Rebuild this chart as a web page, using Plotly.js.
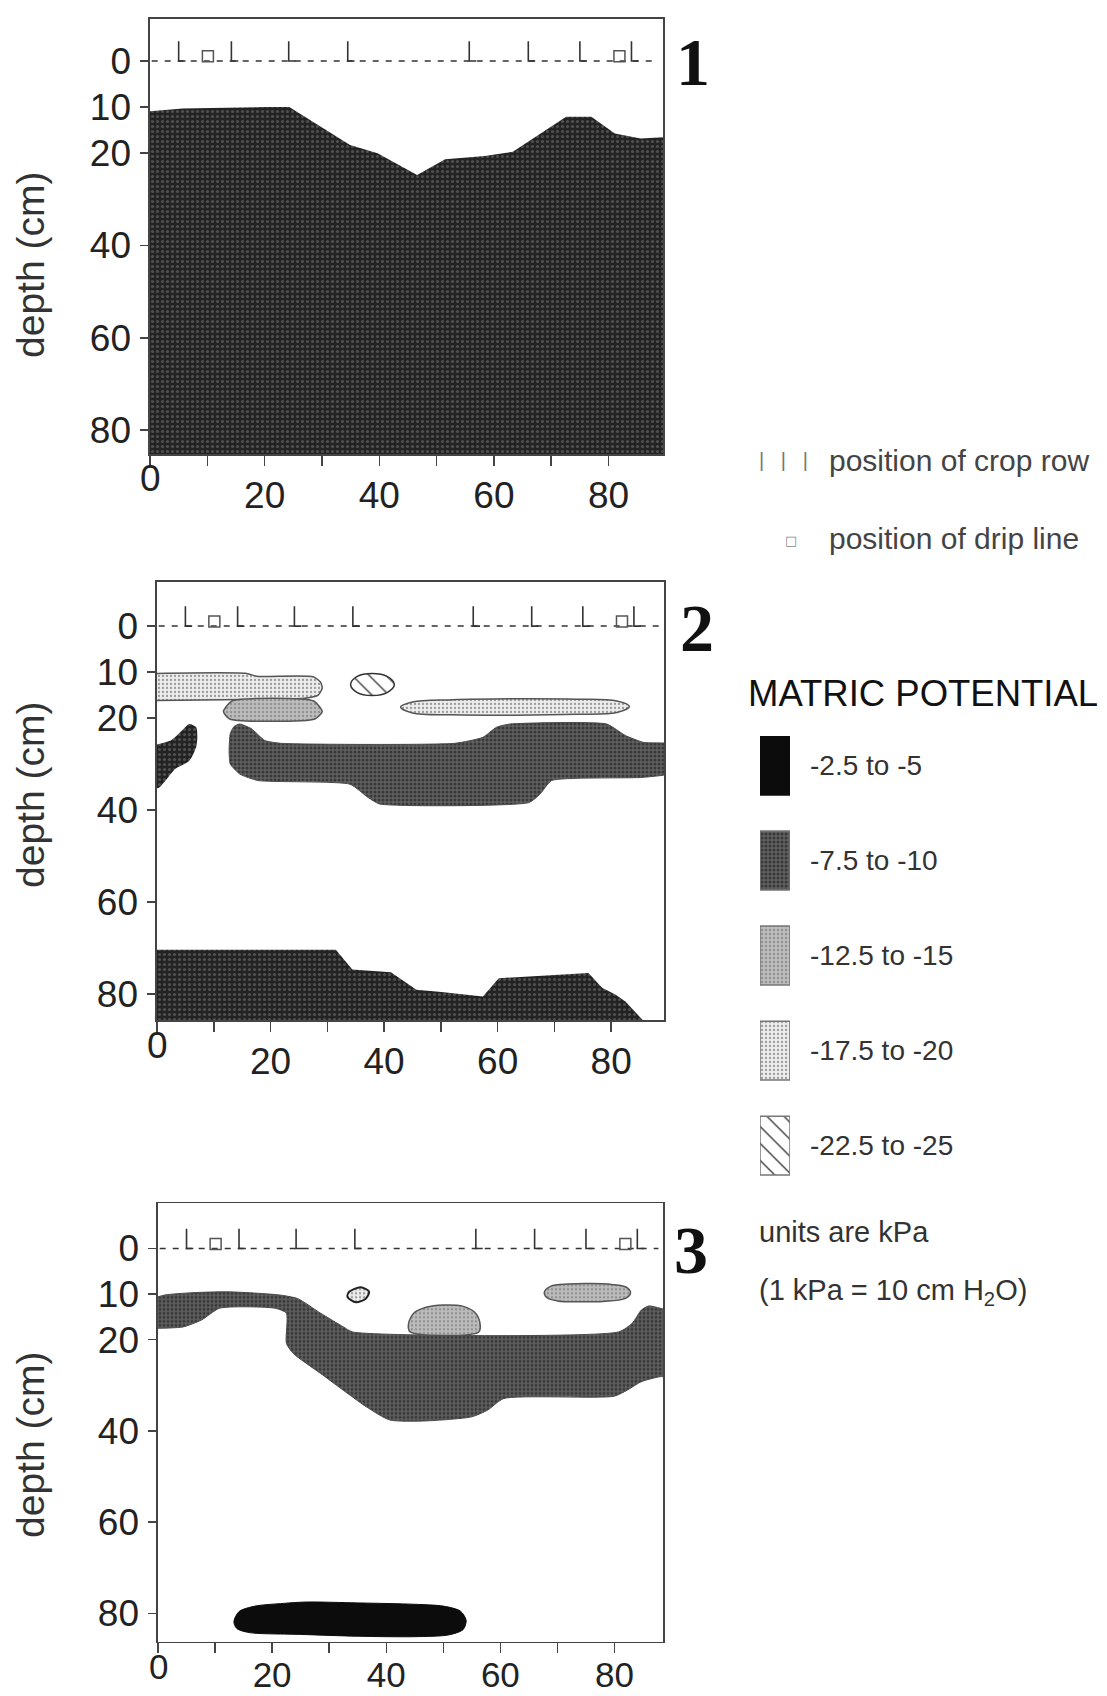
<!DOCTYPE html>
<html><head><meta charset="utf-8">
<script src="https://cdn.plot.ly/plotly-3.0.1.min.js"></script>
<style>html,body{margin:0;padding:0;background:#fff}#chart{width:1107px;height:1696px}</style>
</head><body><div id="chart"></div>
<script>
// ---------------- data ----------------
const xTickVals = [0,10,20,30,40,50,60,70,80,90];
const xTickText = ['','','20','','40','','60','','80',''];
const xOriginLabel = '0';
const yTickVals = [0,10,20,40,60,80];
const yTickText = ['0','10','20','40','60','80'];
const panelNames = ['1','2','3'];
const yAxisTitle = 'depth (cm)';
const xRanges = [[0,89.5],[0,89.3],[0,88.5]];
const yRanges = [[85.2,-9.1],[85.7,-9.6],[86.2,-9.9]];

// positions along the bed (cm)
const cropRows = [5, 14.2, 24.2, 34.5, 55.7, 66, 75, 84];
const dripLines = [10.1, 81.9];
const soilSurface = 0;

// legend
const cropRowLabel = 'position of crop row';
const dripLineLabel = 'position of drip line';
const legendTitle = 'MATRIC POTENTIAL';
const classKeys = ['c1','c2','c3','c4','c5'];
const classLabels = ['-2.5 to -5','-7.5 to -10','-12.5 to -15','-17.5 to -20','-22.5 to -25'];
const unitsNote1 = 'units are kPa';
const unitsNote2 = '(1 kPa = 10 cm H<sub>2</sub>O)';

// ---- panel 1 contour regions (x = cm, y = depth cm) ----
const p1DarkX = [-1, 5.7, 20.3, 24.3, 34.9, 39.7, 46.6, 51.5, 58.4, 63.3, 72.6, 77.0, 81.1, 85.6, 91, 91, -1];
const p1DarkY = [11.0, 10.3, 10.0, 10.0, 18.2, 20.0, 24.7, 21.3, 20.6, 19.7, 12.1, 12.1, 15.7, 16.8, 16.4, 90, 90];

// ---- panel 2 ----
const p2BandX = [-1, 15.8, 17.5, 27.5, 28.8, 29.1, 28.4, 26, 11.6, -1];
const p2BandY = [10.3, 10.3, 10.9, 11.0, 12.2, 13.5, 15.0, 15.7, 16.0, 16.2];
const p2MidX = [11.7, 13.2, 27.6, 29.1, 27.8, 12.8, 11.7];
const p2MidY = [18.6, 16.3, 16.3, 18.6, 20.2, 20.2, 18.6];
const p2HatchX = [34.1, 35.2, 37.9, 40.6, 41.8, 40.6, 37.9, 35.2, 34.1];
const p2HatchY = [12.7, 11.0, 10.3, 11.0, 12.7, 14.4, 15.1, 14.4, 12.7];
const p2LongX = [42.9, 45, 52, 63, 74, 81, 83.2, 81, 74, 63, 52, 45, 42.9];
const p2LongY = [17.6, 16.5, 16.0, 15.8, 15.9, 16.3, 17.5, 18.8, 19.2, 19.4, 19.3, 18.9, 17.6];
const p2BlobX = [-1, 2.4, 4.4, 5.7, 6.9, 7.1, 6.9, 5.7, 3.2, 0.4, -1];
const p2BlobY = [26, 24.9, 22.7, 21.3, 22.0, 24.2, 26.3, 29.3, 31.1, 35.1, 35.5];
const p2GrayX = [12.7, 12.9, 13.6, 14.6, 16.6, 19.0, 21.8, 52.5, 57.4, 59.8, 62.2, 79.2, 82.5, 85.7, 91, 91, 85.7, 69.5, 67.5, 65.5, 39.2, 37.2, 34.0, 17.8, 14.6, 12.9, 12.7];
const p2GrayY = [27.1, 23.4, 21.8, 21.3, 22.3, 24.9, 25.5, 25.5, 24.2, 22.0, 21.3, 21.3, 23.8, 25.3, 25.8, 31.8, 32.9, 33.6, 36.5, 38.4, 38.7, 37.3, 34.4, 33.6, 32.2, 30.0, 27.1];
const p2DeepX = [-1, 31.5, 34.4, 41.2, 45.7, 50.1, 57.4, 60.2, 76.0, 78.4, 80.8, 82.5, 85.7, 86.5, -1];
const p2DeepY = [70.4, 70.4, 74.7, 75.3, 79.1, 79.6, 80.6, 76.6, 75.5, 78.7, 80.2, 81.7, 85.9, 90, 90];

// ---- panel 3 ----
const p3GrayX = [-1, 1.2, 6.0, 12.4, 21.3, 24.5, 28.5, 32.5, 34.1, 80.7, 83.1, 84.7, 86.0, 88.0, 91, 91, 88.0, 84.7, 82.3, 79.9, 60.6, 57.8, 55.0, 47.0, 40.6, 36.5, 28.5, 23.7, 22.5, 22.5, 20.5, 10.8, 7.6, 4.4, 0, -1];
const p3GrayY = [11.0, 10.2, 9.7, 9.5, 10.2, 11.0, 14.2, 17.2, 18.3, 18.3, 16.4, 13.5, 12.6, 13.1, 14.5, 28.1, 28.1, 29.2, 31.0, 32.4, 32.9, 35.4, 36.9, 37.8, 37.6, 34.7, 27.4, 23.0, 20.8, 14.2, 13.1, 13.1, 15.7, 17.2, 17.5, 17.5];
const p3SmallX = [33.5, 35.5, 37.0, 36.4, 34.7, 33.2, 33.5];
const p3SmallY = [9.5, 8.5, 9.5, 11.0, 11.8, 10.6, 9.5];
const p3DomeX = [44.2, 43.9, 44.8, 47, 50, 53.5, 55.5, 56.4, 56.2, 44.2];
const p3DomeY = [18.3, 16.5, 14.2, 12.9, 12.4, 12.7, 14.0, 16.2, 18.3, 18.3];
const p3OvalX = [67.7, 68.8, 72, 75.5, 79.5, 82.2, 82.8, 81.8, 78, 74, 70, 68.2, 67.7];
const p3OvalY = [9.6, 8.3, 7.8, 7.7, 7.9, 8.6, 9.8, 11.0, 11.6, 11.7, 11.5, 10.8, 9.6];
const p3BlackX = [13.3, 14.2, 17, 22, 26, 35, 45, 50, 53, 54, 53.5, 51, 45, 35, 25, 16, 13.8, 13.3];
const p3BlackY = [81.8, 79.6, 78.4, 77.8, 77.5, 77.7, 78.0, 78.4, 79.5, 81.5, 83.5, 84.7, 85.1, 85.0, 84.6, 84.2, 83.3, 81.8];

// ---------------- styles ----------------
const classStyle = {
  c1:   {bg:'#232323', fg:'#505050', shape:'.', size:5, sol:0.3, line:'rgba(0,0,0,0)', lw:0},
  c1s:  {bg:'#0c0c0c', fg:'#0c0c0c', shape:'', size:5, sol:0.3, line:'#0c0c0c', lw:1},
  c2:   {bg:'#606060', fg:'#383838', shape:'.', size:4, sol:0.45, line:'#4a4a4a', lw:1},
  c3:   {bg:'#bdbdbd', fg:'#929292', shape:'.', size:4, sol:0.3, line:'#555555', lw:1.5},
  c4:   {bg:'#ececec', fg:'#9a9a9a', shape:'.', size:4, sol:0.25, line:'#555555', lw:1.5},
  c5:   {bg:'#ffffff', fg:'#444444', shape:'\\', size:12, sol:0.12, line:'#333333', lw:1.5}
};
const smallOutline = {line:'#222222', lw:2};

const regions = [
  {p:0, cls:'c1', x:p1DarkX, y:p1DarkY, smooth:0},
  {p:1, cls:'c4', x:p2BandX, y:p2BandY, smooth:0.6},
  {p:1, cls:'c3', x:p2MidX, y:p2MidY, smooth:0.6},
  {p:1, cls:'c5', x:p2HatchX, y:p2HatchY, smooth:1},
  {p:1, cls:'c4', x:p2LongX, y:p2LongY, smooth:1},
  {p:1, cls:'c1', x:p2BlobX, y:p2BlobY, smooth:0.7},
  {p:1, cls:'c2', x:p2GrayX, y:p2GrayY, smooth:0.5},
  {p:1, cls:'c1', x:p2DeepX, y:p2DeepY, smooth:0},
  {p:2, cls:'c2', x:p3GrayX, y:p3GrayY, smooth:0.6},
  {p:2, cls:'c4', x:p3SmallX, y:p3SmallY, smooth:0.8, outline:smallOutline},
  {p:2, cls:'c3', x:p3DomeX, y:p3DomeY, smooth:0.8},
  {p:2, cls:'c3', x:p3OvalX, y:p3OvalY, smooth:1},
  {p:2, cls:'c1s', x:p3BlackX, y:p3BlackY, smooth:0.8}
];

// ---------------- layout geometry (pixels of the 1107x1696 page) ----------------
const W = 1107, H = 1696;
const panelBoxes = [
  {l:150, r:663, t:19, b:454, title:265, xlabStandoff:-2, xlabSize:37},
  {l:157, r:664, t:582, b:1020, title:795, xlabStandoff:-2, xlabSize:37},
  {l:158, r:663, t:1203.3, b:1641.7, title:1445, xlabStandoff:-8, xlabSize:35}
];
const px = v => v / W;
const py = v => 1 - v / H;
const sfx = i => i === 0 ? '' : String(i + 1);
const sans = 'Liberation Sans, Arial, sans-serif';
const axisFont = {family:sans, size:37, color:'#222'};

const traces = [];
regions.forEach(r => {
  const s = classStyle[r.cls];
  const o = r.outline || {line:s.line, lw:s.lw};
  const t = {
    type:'scatter', mode:'lines', x:r.x, y:r.y,
    xaxis:'x' + sfx(r.p), yaxis:'y' + sfx(r.p),
    fill:'toself', fillcolor:s.bg,
    line:{color:o.line, width:o.lw, shape: r.smooth ? 'spline' : 'linear', smoothing: r.smooth || 0},
    hoverinfo:'skip'
  };
  if (s.shape) t.fillpattern = {shape:s.shape, bgcolor:s.bg, fgcolor:s.fg, size:s.size, solidity:s.sol};
  traces.push(t);
});

// soil surface, crop rows, drip lines
for (let i = 0; i < 3; i++) {
  const xa = 'x' + sfx(i), ya = 'y' + sfx(i);
  traces.push({type:'scatter', mode:'lines', x:[xRanges[i][0] + 0.3, xRanges[i][1] - 0.8], y:[soilSurface, soilSurface],
    xaxis:xa, yaxis:ya, line:{color:'#333', width:1.5, dash:'6px,7px'}, hoverinfo:'skip'});
  const cx = [], cy = [];
  cropRows.forEach(c => { cx.push(c, c, c + 1.2, null); cy.push(soilSurface - 4.3, soilSurface, soilSurface, null); });
  traces.push({type:'scatter', mode:'lines', x:cx, y:cy, xaxis:xa, yaxis:ya,
    line:{color:'#333', width:1.6}, hoverinfo:'skip'});
  traces.push({type:'scatter', mode:'markers', x:dripLines, y:dripLines.map(() => soilSurface - 1), xaxis:xa, yaxis:ya,
    marker:{symbol:'square-open', size:11, color:'#555', line:{width:1.5, color:'#555'}}, hoverinfo:'skip'});
}

// legend swatches (own small subplot)
const legTop = 736, legBottom = 1177, legSpan = 4.64, swatchH = 0.62;
const legendStyle = {c1:'c1s', c2:'c2', c3:'c3', c4:'c4', c5:'c5'};
classKeys.forEach((k, i) => {
  const s = classStyle[legendStyle[k]];
  const t = {type:'scatter', mode:'lines', x:[0,1,1,0,0], y:[i, i, i + swatchH, i + swatchH, i],
    xaxis:'x4', yaxis:'y4', fill:'toself', fillcolor:s.bg,
    line:{color: k === 'c1' ? '#0c0c0c' : '#777', width:1.5}, hoverinfo:'skip'};
  if (s.shape) t.fillpattern = {shape:s.shape, bgcolor:s.bg, fgcolor:s.fg, size:s.size, solidity:s.sol};
  traces.push(t);
});

const layout = {
  width:W, height:H, margin:{l:0, r:0, t:0, b:0},
  paper_bgcolor:'#fff', plot_bgcolor:'#fff', showlegend:false,
  annotations:[], shapes:[]
};

for (let i = 0; i < 3; i++) {
  const b = panelBoxes[i];
  layout['xaxis' + sfx(i)] = {
    domain:[px(b.l), px(b.r)], range:xRanges[i], anchor:'y' + sfx(i),
    tickvals:xTickVals, ticktext:xTickText, ticks:'outside', ticklen:10, tickwidth:1.5, tickcolor:'#444',
    showline:true, mirror:true, linecolor:'#444', linewidth:1.6, showgrid:false, zeroline:false,
    tickfont:{family:sans, size:b.xlabSize, color:'#222'}, ticklabelstandoff:b.xlabStandoff
  };
  layout['yaxis' + sfx(i)] = {
    domain:[py(b.b), py(b.t)], range:yRanges[i], anchor:'x' + sfx(i),
    tickvals:yTickVals, ticktext:yTickText, ticks:'outside', ticklen:8, tickwidth:1.5, tickcolor:'#444',
    showline:true, mirror:true, linecolor:'#444', linewidth:1.6, showgrid:false, zeroline:false,
    tickfont:axisFont, ticklabelstandoff:2
  };
  layout.annotations.push({xref:'paper', yref:'paper', x:px(30), y:py(b.title), text:yAxisTitle,
    textangle:-90, showarrow:false, xanchor:'center', yanchor:'middle',
    font:{family:sans, size:39, color:'#333'}});
  // the origin label sits a little higher than the other x tick labels
  layout.annotations.push({xref:'x' + sfx(i), yref:'paper', x:xTickVals[0], y:py(b.b + 25), text:xOriginLabel,
    showarrow:false, xanchor:'center', yanchor:'middle', font:{family:sans, size:b.xlabSize, color:'#222'}});
}
const panelLabelPos = [[693, 62], [697, 628], [691, 1250]];
panelNames.forEach((n, i) => {
  layout.annotations.push({xref:'paper', yref:'paper', x:px(panelLabelPos[i][0]), y:py(panelLabelPos[i][1]),
    text:'<b>' + n + '</b>', showarrow:false, xanchor:'center', yanchor:'middle',
    font:{family:'Liberation Serif, Times New Roman, serif', size:68, color:'#111'}});
});

// legend subplot
layout.xaxis4 = {domain:[px(760), px(790)], range:[0,1], visible:false, fixedrange:true, anchor:'y4'};
layout.yaxis4 = {domain:[py(legBottom), py(legTop)], range:[legSpan, 0], visible:false, fixedrange:true, anchor:'x4'};
classLabels.forEach((lab, i) => {
  const yc = legTop + (i + swatchH / 2) * (legBottom - legTop) / legSpan;
  layout.annotations.push({xref:'paper', yref:'paper', x:px(808), y:py(yc), text:lab, showarrow:false,
    xanchor:'left', yanchor:'middle', font:{family:sans, size:28, color:'#333'}});
});
const legFont = {family:sans, size:30, color:'#444'};
layout.annotations.push(
  {xref:'paper', yref:'paper', x:px(757), y:py(460), text:'|   |   |', showarrow:false, xanchor:'left', yanchor:'middle',
   font:{family:sans, size:20, color:'#777'}},
  {xref:'paper', yref:'paper', x:px(827), y:py(460), text:cropRowLabel, showarrow:false, xanchor:'left', yanchor:'middle', font:legFont},
  {xref:'paper', yref:'paper', x:px(791), y:py(540), text:'□', showarrow:false, xanchor:'center', yanchor:'middle',
   font:{family:'DejaVu Sans, sans-serif', size:13, color:'#888'}},
  {xref:'paper', yref:'paper', x:px(827), y:py(538), text:dripLineLabel, showarrow:false, xanchor:'left', yanchor:'middle', font:legFont},
  {xref:'paper', yref:'paper', x:px(746), y:py(693), text:legendTitle, showarrow:false, xanchor:'left', yanchor:'middle',
   font:{family:sans, size:36.5, color:'#111'}},
  {xref:'paper', yref:'paper', x:px(757), y:py(1232), text:unitsNote1, showarrow:false, xanchor:'left', yanchor:'middle', font:{family:sans, size:29, color:'#333'}},
  {xref:'paper', yref:'paper', x:px(757), y:py(1292), text:unitsNote2, showarrow:false, xanchor:'left', yanchor:'middle', font:{family:sans, size:29, color:'#333'}}
);

Plotly.newPlot('chart', traces, layout, {staticPlot:true, displayModeBar:false});
</script></body></html>
